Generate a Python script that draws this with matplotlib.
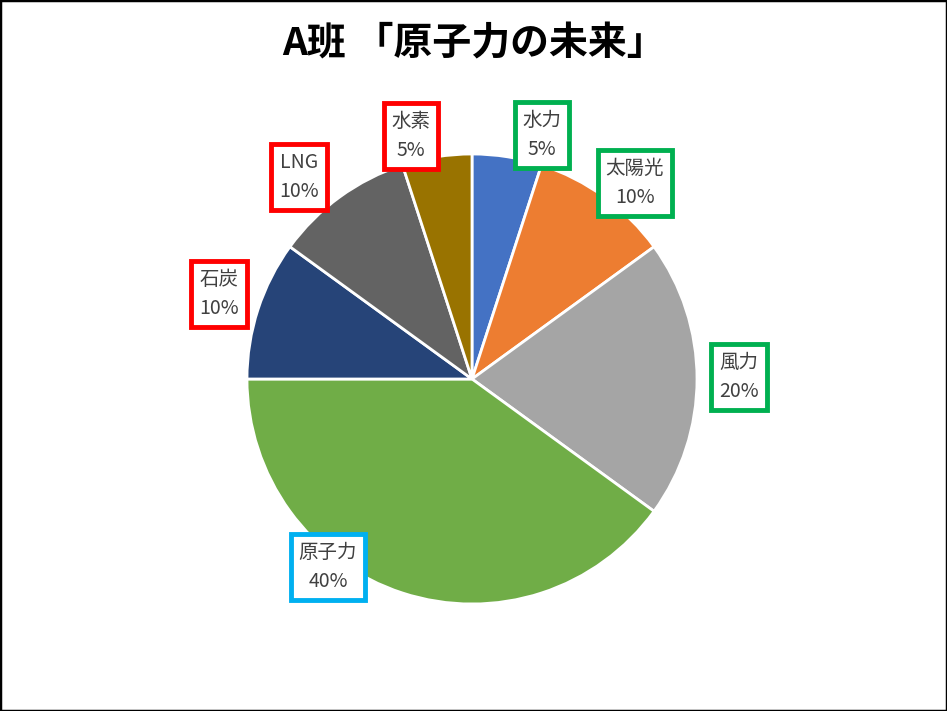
import matplotlib
matplotlib.use("Agg")
import matplotlib.pyplot as plt
from matplotlib.patches import Rectangle

plt.rcParams['font.family'] = ['Noto Sans CJK JP', 'DejaVu Sans']

# data
labels = ['水力', '太陽光', '風力', '原子力', '石炭', 'LNG', '水素']
shares = [5, 10, 20, 40, 10, 10, 5]
slice_colors = ['#4472C4', '#ED7D31', '#A5A5A5', '#70AD47', '#264478', '#636363', '#997300']
box_colors = ['#00B050', '#00B050', '#00B050', '#00B0F0', '#FF0000', '#FF0000', '#FF0000']
title = 'A班 「原子力の未来」'

# label box centres in pixels (x from left, y from top)
label_pos = [(542, 135), (635, 183), (739, 377), (328, 567), (219, 294), (299, 177), (411, 136)]

W, H = 947, 711
fig = plt.figure(figsize=(W / 100, H / 100), dpi=100)

cx, cy, r = 472, 379, 225
ax = fig.add_axes([(cx - r) / W, (H - cy - r) / H, 2 * r / W, 2 * r / H])
ax.pie(shares, colors=slice_colors, startangle=90, counterclock=False, radius=1,
       wedgeprops=dict(edgecolor='white', linewidth=2))
ax.set_xlim(-1, 1)
ax.set_ylim(-1, 1)
ax.set_aspect('equal')
ax.axis('off')

for lab, val, col, (px, py) in zip(labels, shares, box_colors, label_pos):
    fig.text(px / W, 1 - py / H, f'{lab}\n{val}%', ha='center', va='center',
             fontsize=14, color='#404040', linespacing=1.5,
             bbox=dict(boxstyle='square,pad=0.4', facecolor='white', edgecolor=col, linewidth=3.5))

fig.text(0.5, 1 - 44 / H, title, ha='center', va='center', fontsize=28,
         fontweight='bold', color='black')

fig.patches.append(Rectangle((0, 0), 1, 1, transform=fig.transFigure, fill=False,
                             edgecolor='black', linewidth=2.5, zorder=10))

fig.savefig('out.png', dpi=100, facecolor='white')
